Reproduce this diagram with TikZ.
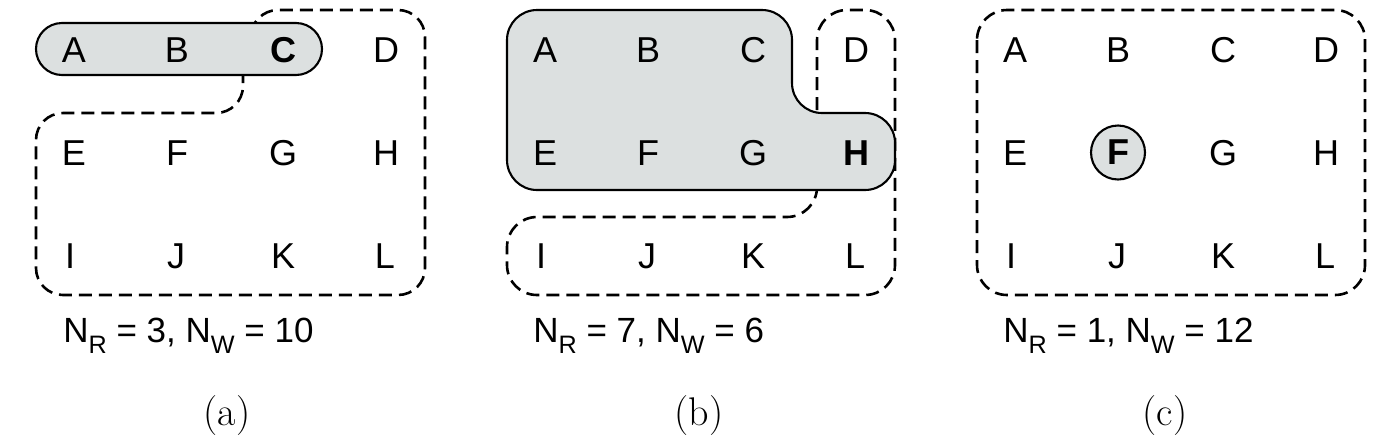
\documentclass[tikz,border=0pt]{standalone}
\usepackage{fontspec}
\newfontfamily\sansfam{Liberation Sans}
\definecolor{shade}{RGB}{220,224,224}
\newcommand\lowsub[1]{\raisebox{-5.5pt}{\fontsize{12.6}{14}\selectfont #1}}
\begin{document}
\begin{tikzpicture}[x=0.5pt,y=-0.5pt,
  lt/.style={font=\sansfam\fontsize{18}{20}\selectfont, inner sep=0pt, anchor=base},
  bl/.style={font=\sansfam\bfseries\fontsize{18}{20}\selectfont, inner sep=0pt, anchor=base},
  solidregion/.style={draw=black, line width=1.05pt, fill=shade},
  dashregion/.style={draw=black, line width=1.3pt, dash pattern=on 6.5pt off 3.5pt},
  captext/.style={font=\sansfam\fontsize{17.5}{20}\selectfont, inner sep=0pt, anchor=base west},
  lab/.style={font=\fontsize{20}{24}\selectfont, inner sep=0pt, anchor=base}]
\useasboundingbox (0,0) rectangle (1384,440);

% ---------- panel (a)
\draw[dashregion, rounded corners=13.5pt]
  (243,50) -- (243,113) -- (36,113) -- (36,295) -- (425,295) -- (425,10) -- (251,10) -- (251,50);
\draw[solidregion, rounded corners=13pt] (36,23) rectangle (322,75);

% ---------- panel (b)
\draw[dashregion, rounded corners=15pt]
  (817,150) -- (817,10) -- (895,10) -- (895,295) -- (507,295) -- (507,217) -- (817,217) -- (817,160);
\draw[solidregion, rounded corners=15pt]
  (507,10) -- (792,10) -- (792,113) -- (895,113) -- (895,190) -- (507,190) -- cycle;

% ---------- panel (c)
\draw[dashregion, rounded corners=15pt] (977,10) rectangle (1365,295);

% ---------- letters (a)
\node[lt] (aA) at (74,62) {A};
\node[lt] (aB) at (177,62) {B};
\node[bl] (aC) at (283,62) {C};
\node[lt] (aD) at (386,62) {D};
\node[lt] (aE) at (74,165) {E};
\node[lt] (aF) at (177,165) {F};
\node[lt] (aG) at (283,165) {G};
\node[lt] (aH) at (386,165) {H};
\node[lt] (aI) at (70,268) {I};
\node[lt] (aJ) at (176,268) {J};
\node[lt] (aK) at (283,268) {K};
\node[lt] (aL) at (385,268) {L};

% ---------- letters (b)
\node[lt] (bA) at (545,62) {A};
\node[lt] (bB) at (648,62) {B};
\node[lt] (bC) at (753,62) {C};
\node[lt] (bD) at (856,62) {D};
\node[lt] (bE) at (545,165) {E};
\node[lt] (bF) at (648,165) {F};
\node[lt] (bG) at (753,165) {G};
\node[bl] (bH) at (856,165) {H};
\node[lt] (bI) at (541,268) {I};
\node[lt] (bJ) at (647,268) {J};
\node[lt] (bK) at (753,268) {K};
\node[lt] (bL) at (855,268) {L};

% ---------- letters (c)
\node[lt] (cA) at (1015,62) {A};
\node[lt] (cB) at (1118,62) {B};
\node[lt] (cC) at (1223,62) {C};
\node[lt] (cD) at (1326,62) {D};
\node[lt] (cE) at (1015,165) {E};
\node[font=\sansfam\bfseries\fontsize{18}{20}\selectfont, circle, inner sep=0pt,
      minimum size=27pt, draw=black, line width=1.05pt, fill=shade] (cF) at (1118,152.5) {F};
\node[lt] (cG) at (1223,165) {G};
\node[lt] (cH) at (1326,165) {H};
\node[lt] (cI) at (1011,268) {I};
\node[lt] (cJ) at (1117,268) {J};
\node[lt] (cK) at (1223,268) {K};
\node[lt] (cL) at (1325,268) {L};

% ---------- captions
\node[captext] (na) at (63,342) {N\lowsub{R} = 3, N\lowsub{W} = 10};
\node[captext] (nb) at (533,342) {N\lowsub{R} = 7, N\lowsub{W} = 6};
\node[captext] (nc) at (1003,342) {N\lowsub{R} = 1, N\lowsub{W} = 12};
\node[lab] (la) at (227,425) {(a)};
\node[lab] (lb) at (699,425) {(b)};
\node[lab] (lc) at (1165,425) {(c)};
\end{tikzpicture}
\end{document}
